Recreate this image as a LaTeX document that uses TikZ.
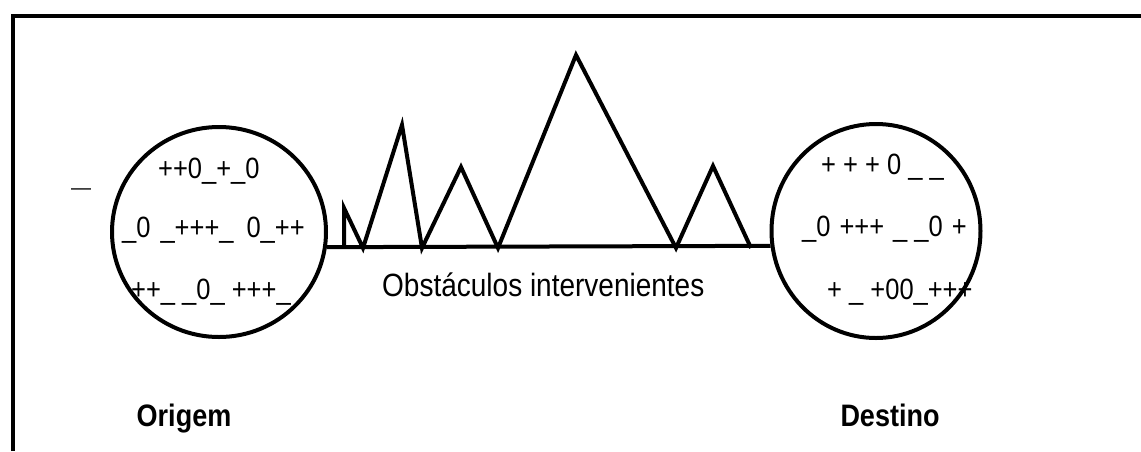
\documentclass[tikz,border=0pt]{standalone}
\usepackage{fontspec}
\usepackage{graphicx}
\setmainfont{Liberation Sans}
\usetikzlibrary{shapes.geometric}
\newcommand{\esticar}[1]{\scalebox{1}[1.15]{#1}}
\tikzset{
  polo/.style={draw, ellipse, line width=4pt, inner sep=0pt},
  sinal/.style={font=\fontsize{25.5}{29}\selectfont, inner sep=0pt, anchor=base west},
  legenda/.style={font=\bfseries\fontsize{27}{31}\selectfont, inner sep=0pt, anchor=base},
  traco/.style={line width=4pt, line join=miter},
}

\begin{document}
\begin{tikzpicture}[x=1pt, y=-1pt]
        \useasboundingbox (0,0) rectangle (1141,451);
        \draw[traco] (13,451) -- (13,16) -- (1141,16);
        % os dois polos
        \node[polo, minimum width=214pt, minimum height=210pt](orig) at (219,232){};
        \node[polo, minimum width=209pt, minimum height=214pt](dest) at (876,231){};
        \draw[traco] (orig.-8) -- (dest.188);
        % obstaculos sobre a linha
        \draw[traco] (344,248) -- (344,208) -- (363,248) -- (402,125) -- (422,248)
          -- (461,167) -- (498,248) -- (576,55) -- (676,248) -- (713,166) -- (751,248);
        \node[sinal](solto) at (71,194){\fontsize{20}{24}\selectfont —};
        \node[sinal](o1) at (158,178){\esticar{++0\_+\_0}};
        \node[sinal](o2) at (122,237){\esticar{\_0\hspace{10pt}\_+++\_\hspace{13pt}0\_++}};
        \node[sinal](o3) at (131,299){\esticar{++\_ \_0\_ +++\_}};
        \node[sinal](d1) at (821,174){\esticar{+ + + 0 \_ \_}};
        \node[sinal](d2) at (802,236){\esticar{\_0\hspace{9pt}+++\hspace{9pt}\_ \_0\hspace{9pt}+}};
        \node[sinal](d3) at (827,299){\esticar{+ \_ +00\_+++}};
        \node[sinal, font=\fontsize{28}{32}\selectfont](obst) at (382,296){\esticar{Obstáculos intervenientes}};
        \node[legenda](lorig) at (184,426){\esticar{Origem}};
        \node[legenda](ldest) at (890,426){\esticar{Destino}};
      \end{tikzpicture}
\end{document}
